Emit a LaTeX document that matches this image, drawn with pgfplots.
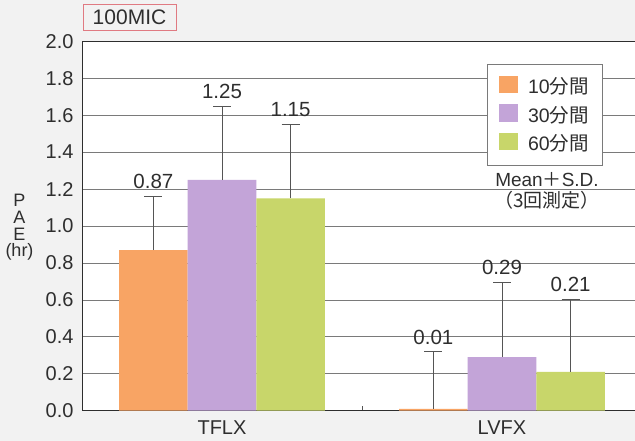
\documentclass[border=0pt]{standalone}
\usepackage{fontspec}
\setmainfont{Liberation Sans}
\newfontfamily\jp{Noto Sans CJK JP}
\usepackage{pgfplots}
\usepackage{pgfplotstable}
\pgfplotsset{compat=1.18}
\definecolor{c10}{HTML}{F8A464}
\definecolor{c30}{HTML}{C3A4D8}
\definecolor{c60}{HTML}{C8D66A}
\definecolor{bgc}{HTML}{F2F2F2}
\definecolor{txt}{HTML}{2E2E2E}
\definecolor{gridc}{HTML}{7A7A7A}
\definecolor{errc}{HTML}{555555}
\definecolor{boxred}{HTML}{E07A82}

% x: group position (0 = TFLX, 1 = LVFX, shifted by bar) ; y = mean ; e = S.D.
\pgfplotstableread{
x y e
-0.245 0.87 0.29
0.755 0.01 0.31
}\tenmin
\pgfplotstableread{
x y e
0 1.25 0.40
1 0.29 0.405
}\thirtymin
\pgfplotstableread{
x y e
0.245 1.15 0.40
1.245 0.21 0.395
}\sixtymin

\begin{document}
\begin{tikzpicture}[x=1pt,y=1pt]
\fill[bgc] (0,0) rectangle (635,441);
\useasboundingbox (0,0) rectangle (635,441);
\begin{axis}[
  at={(82pt,30.3pt)}, anchor=south west,
  scale only axis, width=553pt, height=369.4pt,
  xmin=-0.5, xmax=1.475, ymin=0, ymax=2,
  axis background/.style={fill=white},
  axis lines=left,
  axis line style={-, draw=txt, line width=0.9pt},
  ytick={0,0.2,...,2.0},
  ymajorgrids,
  grid style={draw=gridc, line width=0.7pt},
  ytick style={draw=none},
  yticklabel style={font=\fontsize{20}{22}\selectfont, text=txt, xshift=-5pt, /pgf/number format/.cd, fixed, fixed zerofill, precision=1, assume math mode=true},
  xtick={0.5}, xticklabels={},
  tick align=inside,
  major tick length=5pt,
  xtick style={draw=errc, line width=0.8pt},
  extra x ticks={0,1},
  extra x tick labels={TFLX,LVFX},
  extra x tick style={xtick style={draw=none}, xticklabel style={font=\fontsize{20}{22}\selectfont, text=txt, yshift=-7pt}},
  legend style={at={(0.732,0.938)}, anchor=north west, draw=gridc, line width=0.7pt, fill=white,
     font=\fontsize{19.5}{22}\selectfont, text=txt, inner xsep=12pt, inner ysep=11pt, row sep=7pt,
     /tikz/every odd column/.append style={column sep=8pt}},
  legend cell align=left,
  legend image code/.code={\fill[#1, draw=none] (0pt,-7pt) rectangle (19pt,10.5pt);},
  error bars/error bar style={draw=errc, line width=0.8pt},
  error bars/error mark options={rotate=90, draw=errc, line width=0.8pt, mark size=9pt},
  clip=false,
]
\addplot[ybar, bar width=68.6pt, bar shift=0pt, fill=c10, draw=none,
  error bars/.cd, y dir=plus, y explicit]
  table[x=x, y=y, y error=e] {\tenmin};
\addlegendentry{10{\jp 分間}}
\addplot[ybar, bar width=68.6pt, bar shift=0pt, fill=c30, draw=none,
  error bars/.cd, y dir=plus, y explicit]
  table[x=x, y=y, y error=e] {\thirtymin};
\addlegendentry{30{\jp 分間}}
\addplot[ybar, bar width=68.6pt, bar shift=0pt, fill=c60, draw=none,
  error bars/.cd, y dir=plus, y explicit]
  table[x=x, y=y, y error=e] {\sixtymin};
\addlegendentry{60{\jp 分間}}
% value labels above the error bar caps
\addplot[only marks, mark=none, forget plot, nodes near coords, point meta=explicit symbolic,
  nodes near coords style={anchor=base, yshift=7.5pt, text=txt, font=\fontsize{20.5}{22}\selectfont}]
  coordinates {(-0.245,1.16)[0.87] (0,1.65)[1.25] (0.245,1.55)[1.15]
               (0.755,0.32)[0.01] (1,0.695)[0.29] (1.245,0.605)[0.21]};
\draw[draw=txt, line width=0.9pt] (rel axis cs:0,1) -- (rel axis cs:1,1);
\end{axis}
\node[draw=boxred, line width=0.8pt, minimum width=93pt, minimum height=26pt, text=txt,
  font=\fontsize{21}{23}\selectfont, inner sep=0pt] at (129.5,424) {100MIC};
\node[text=txt, font=\fontsize{19}{21}\selectfont] at (547,261) {Mean{\jp ＋}S.D.};
\node[text=txt, font=\fontsize{19}{21}\selectfont] at (547,241) {{\jp （3回測定）}};
\node[text=txt, font=\fontsize{18}{20}\selectfont] at (19.5,241) {P};
\node[text=txt, font=\fontsize{18}{20}\selectfont] at (19.5,224) {A};
\node[text=txt, font=\fontsize{18}{20}\selectfont] at (19.5,207) {E};
\node[text=txt, font=\fontsize{18}{20}\selectfont] at (19.5,189) {(hr)};
\end{tikzpicture}
\end{document}
